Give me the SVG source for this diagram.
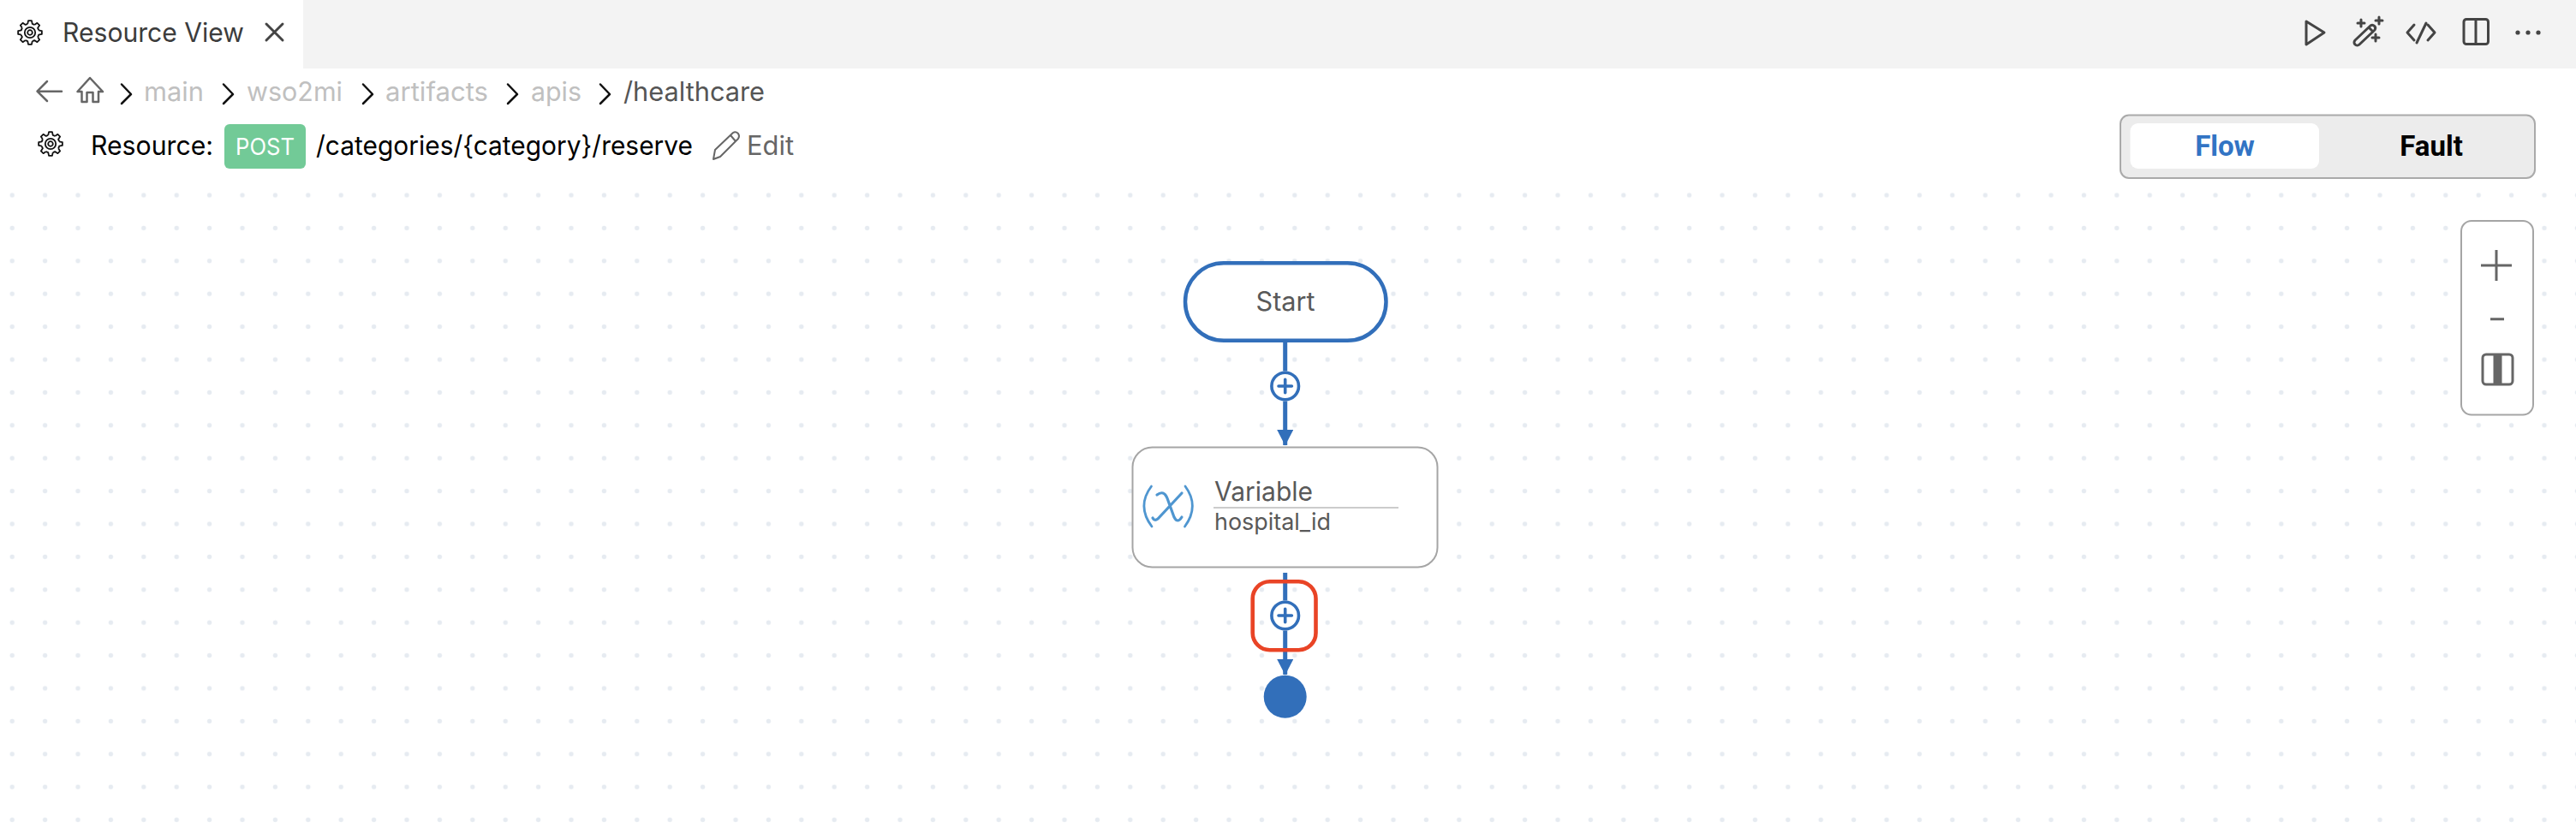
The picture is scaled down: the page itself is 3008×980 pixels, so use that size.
<svg xmlns="http://www.w3.org/2000/svg" xmlns:xlink="http://www.w3.org/1999/xlink" width="3008" height="980" viewBox="0 0 3008 980">
<style>
text{font-family:Inter,"Liberation Sans",sans-serif}
.bc{font-size:31px;fill:#c0c0c0}
.chev{fill:none;stroke:#111;stroke-width:2.5;stroke-linecap:round;stroke-linejoin:round}
.ic{fill:none;stroke:#444;stroke-width:3;stroke-linecap:round;stroke-linejoin:round}
.conn{fill:none;stroke:#326fba;stroke-width:5}
.plus{fill:#fff;stroke:#326fba;stroke-width:3.6}
.plusm{fill:none;stroke:#326fba;stroke-width:3.6;stroke-linecap:round}
.card{fill:#fff;stroke:#a5a5a5;stroke-width:2}
.hd{fill:#000;font-size:31px}
.rb{font-family:Roboto,sans-serif;font-size:33px;font-weight:700}
</style>
<defs>
<pattern id="dots" patternUnits="userSpaceOnUse" x="-5" y="208.8" width="38.4" height="38.4"><circle cx="19.2" cy="19.2" r="2.7" fill="#e6ebf1"/></pattern>
<g id="tooth"><path d="M10.14,-2.72 L13.86,-1.95 L13.86,1.95 L10.14,2.72 A10.5 10.5 0 0 1 9.09,5.25"/></g>
<g id="gear" fill="none" stroke="#111" stroke-width="1.8" stroke-linejoin="round">
<use href="#tooth"/><use href="#tooth" transform="rotate(45)"/><use href="#tooth" transform="rotate(90)"/><use href="#tooth" transform="rotate(135)"/><use href="#tooth" transform="rotate(180)"/><use href="#tooth" transform="rotate(225)"/><use href="#tooth" transform="rotate(270)"/><use href="#tooth" transform="rotate(315)"/>
<circle r="6.2"/><circle r="2.8"/>
</g>
<marker id="arrow" markerUnits="userSpaceOnUse" markerWidth="20" markerHeight="20" refX="18" refY="9.5" orient="auto"><path d="M0,0 L18.5,9.5 L0,19 Z" fill="#326fba"/></marker>
</defs>
<rect width="3008" height="980" fill="#fff"/>
<rect y="209" width="3008" height="771" fill="url(#dots)"/>
<g id="topbar">
<rect x="354" width="2654" height="80" fill="#f3f3f3"/>
<use href="#gear" transform="translate(35,38)"/>
<text x="73" y="49" font-size="31" fill="#3c3c3c" textLength="212" lengthAdjust="spacingAndGlyphs">Resource View</text>
<path d="M311,28 L330,47 M330,28 L311,47" class="ic" stroke-width="2.5"/>
<path d="M2693,25 L2714,38 L2693,52 Z" class="ic"/>
<path d="M2750,47 L2768,30 A3.6 3.6 0 0 1 2773,35 L2755,52 A3.5 3.5 0 0 1 2750,47 Z M2766,32 L2771,37" class="ic" stroke-width="2.5"/>
<path d="M2753,27 H2761 M2757,23 V31 M2774,24 H2782 M2778,20 V28 M2770,44 H2778 M2774,40 V48" class="ic" stroke-width="2.5"/>
<path d="M2819,29 L2811,38 L2819,47 M2835,29 L2843,38 L2835,47 M2833,27 L2822,50" class="ic"/>
<rect x="2877" y="22.5" width="28.5" height="29" rx="3" class="ic"/><path d="M2891,22.5 V51.5" class="ic"/>
<circle cx="2940" cy="38" r="2.6" fill="#444"/><circle cx="2952" cy="38" r="2.6" fill="#444"/><circle cx="2964" cy="38" r="2.6" fill="#444"/>
</g>
<g id="breadcrumb">
<path d="M72,106.7 H44 M55,95 L43.5,106.7 L55,118" fill="none" stroke="#666" stroke-width="2.5" stroke-linecap="round" stroke-linejoin="round"/>
<path d="M90.5,107 L105,91 L120,107 H115 V119 H108.5 V108 H101.5 V119 H95.5 V107 Z" fill="none" stroke="#666" stroke-width="2.5" stroke-linejoin="round"/>
<path d="M142,98.5 L153,110 L142,121" class="chev"/>
<path d="M261,98.5 L272,110 L261,121" class="chev"/>
<path d="M424,98.5 L435,110 L424,121" class="chev"/>
<path d="M593,98.5 L604,110 L593,121" class="chev"/>
<path d="M701,98.5 L712,110 L701,121" class="chev"/>
<text x="168" y="118" class="bc" textLength="70" lengthAdjust="spacingAndGlyphs">main</text>
<text x="288" y="118" class="bc" textLength="112" lengthAdjust="spacingAndGlyphs">wso2mi</text>
<text x="450" y="118" class="bc" textLength="120" lengthAdjust="spacingAndGlyphs">artifacts</text>
<text x="620" y="118" class="bc" textLength="59" lengthAdjust="spacingAndGlyphs">apis</text>
<text x="728" y="118" class="bc" style="fill:#555" textLength="165" lengthAdjust="spacingAndGlyphs">/healthcare</text>
</g>
<g id="resource-header">
<use href="#gear" transform="translate(59,168)"/>
<text x="106" y="181" class="hd" textLength="143" lengthAdjust="spacingAndGlyphs">Resource:</text>
<rect x="262" y="145" width="95" height="52" rx="6" fill="#72ca97"/>
<text x="275" y="181" font-size="27" fill="#fff" textLength="69" lengthAdjust="spacingAndGlyphs">POST</text>
<text x="369" y="181" class="hd" textLength="440" lengthAdjust="spacingAndGlyphs">/categories/{category}/reserve</text>
<path d="M833,186 L835,175 L856,155 Q859,153 862,156 Q864,159 862,162 L841,183 Z M853,158 L859,165" fill="none" stroke="#666" stroke-width="2" stroke-linejoin="round"/>
<text x="872" y="181" font-size="31" fill="#666" textLength="55" lengthAdjust="spacingAndGlyphs">Edit</text>
</g>
<g id="flow-fault-switch">
<rect x="2476" y="134.5" width="484" height="73.5" rx="10" fill="#ececec" stroke="#aaa" stroke-width="2"/>
<rect x="2487.5" y="144" width="220.5" height="53" rx="9" fill="#fff"/>
<text x="2598" y="182" text-anchor="middle" class="rb" fill="#3274c4">Flow</text>
<text x="2839" y="182" text-anchor="middle" class="rb" fill="#000">Fault</text>
</g>
<g id="zoom-controls">
<rect x="2874" y="258" width="84" height="226.5" rx="12" class="card"/>
<path d="M2897,310 H2933 M2915,292 V328 M2908,372.7 H2924" fill="none" stroke="#666" stroke-width="3"/>
<rect x="2899" y="414" width="35" height="35" rx="4" fill="#fff" stroke="#666" stroke-width="3"/>
<rect x="2911.5" y="414" width="10" height="35" fill="#666"/>
</g>
<g id="connectors">
<path d="M1500.7,400 V433.5 M1500.7,468.5 V520" class="conn" marker-end="url(#arrow)"/>
<path d="M1500.7,669 V701.5 M1500.7,736.5 V788" class="conn" marker-end="url(#arrow)"/>
</g>
<g id="node-start">
<rect x="1384" y="307.3" width="234.5" height="90.5" rx="45" fill="#fff" stroke="#326fba" stroke-width="4.5"/>
<text x="1501" y="363" text-anchor="middle" font-size="31" fill="#595959" textLength="69" lengthAdjust="spacingAndGlyphs">Start</text>
</g>
<g id="add-1">
<circle cx="1500.7" cy="451" r="15.8" class="plus"/>
<path d="M1493,451 H1508.4 M1500.7,443.3 V458.7" class="plusm"/>
</g>
<g id="node-variable">
<rect x="1322.5" y="522.5" width="356" height="140" rx="23" class="card"/>
<path d="M1344.5,568 Q1327,591 1345,615 M1384,568 Q1401,591 1383.5,615" fill="none" stroke="#4f96d0" stroke-width="2.8" stroke-linecap="round"/>
<path d="M1351,578 Q1359,572 1363,582 L1371,604 Q1375,612 1380,604 M1380,576 L1352,606 Q1348,609 1346,605" fill="none" stroke="#4f96d0" stroke-width="3.2" stroke-linecap="round"/>
<text x="1418" y="585" font-size="31" fill="#595959" textLength="115" lengthAdjust="spacingAndGlyphs">Variable</text>
<path d="M1417,593 H1633" stroke="#ccc" stroke-width="2"/>
<text x="1418" y="619" font-size="27.5" fill="#595959" textLength="136" lengthAdjust="spacingAndGlyphs">hospital_id</text>
</g>
<g id="add-2">
<circle cx="1500.7" cy="719" r="15.8" class="plus"/>
<path d="M1493,719 H1508.4 M1500.7,711.3 V726.7" class="plusm"/>
</g>
<g id="node-end"><circle cx="1500.7" cy="813.7" r="25" fill="#326fba"/></g>
<g id="highlight"><rect x="1462.7" y="679.3" width="73.8" height="80" rx="20" fill="none" stroke="#e94426" stroke-width="4.6"/></g>
</svg>
